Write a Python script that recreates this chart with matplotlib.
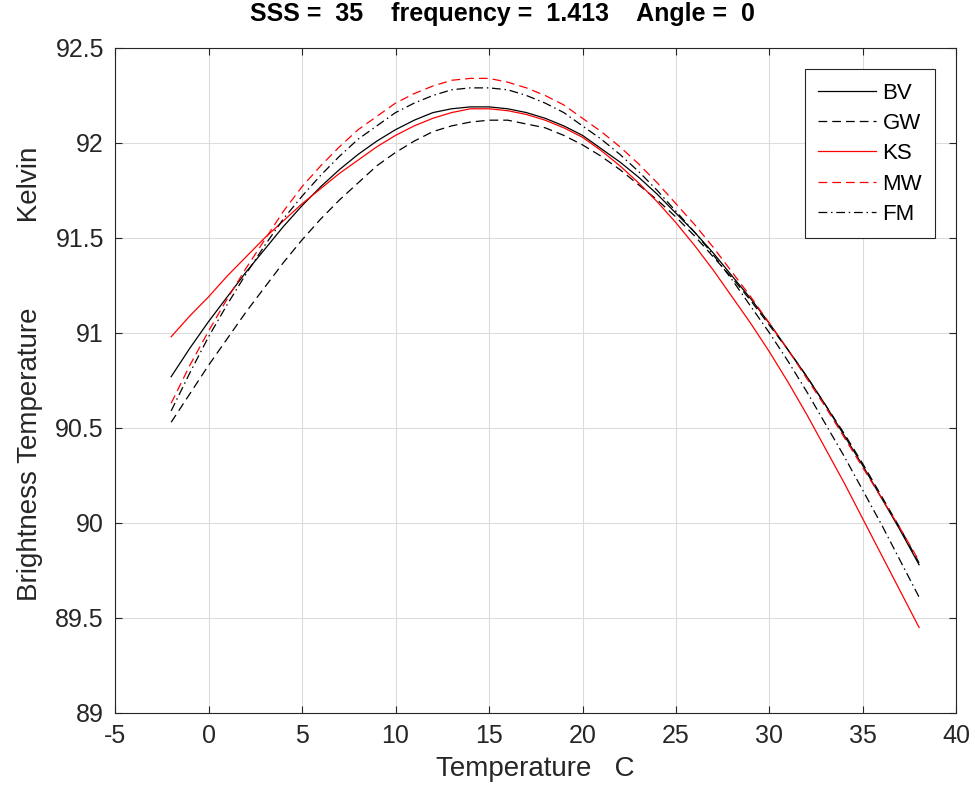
#!/usr/bin/env python3
"""Brightness temperature vs SST for five dielectric models (L-band, nadir)."""

import matplotlib
matplotlib.use("Agg")
import matplotlib.pyplot as plt

plt.rcParams["font.family"] = ["Liberation Sans", "DejaVu Sans"]
plt.rcParams["axes.unicode_minus"] = False

# sea surface temperature, deg C
temp = list(range(-2, 39))

# brightness temperature (K) per model
tb_bv = [90.77, 90.92, 91.06, 91.19, 91.32, 91.44, 91.56, 91.67, 91.77, 91.86,
         91.94, 92.01, 92.07, 92.12, 92.16, 92.18, 92.19, 92.19, 92.18, 92.16,
         92.13, 92.09, 92.04, 91.97, 91.90, 91.82, 91.73, 91.63, 91.53, 91.42,
         91.30, 91.18, 91.05, 90.91, 90.77, 90.62, 90.46, 90.30, 90.13, 89.96,
         89.78]
tb_gw = [90.53, 90.68, 90.83, 90.97, 91.11, 91.24, 91.37, 91.49, 91.60, 91.70,
         91.79, 91.88, 91.95, 92.01, 92.06, 92.09, 92.11, 92.12, 92.12, 92.10,
         92.08, 92.04, 91.99, 91.93, 91.86, 91.78, 91.70, 91.61, 91.51, 91.40,
         91.29, 91.17, 91.04, 90.91, 90.77, 90.62, 90.47, 90.31, 90.14, 89.97,
         89.79]
tb_ks = [90.98, 91.09, 91.19, 91.30, 91.40, 91.50, 91.59, 91.68, 91.76, 91.84,
         91.91, 91.98, 92.04, 92.09, 92.13, 92.16, 92.18, 92.18, 92.17, 92.15,
         92.12, 92.08, 92.03, 91.96, 91.88, 91.79, 91.69, 91.58, 91.46, 91.33,
         91.19, 91.05, 90.90, 90.74, 90.57, 90.39, 90.21, 90.02, 89.83, 89.64,
         89.45]
tb_mw = [90.63, 90.83, 91.01, 91.18, 91.34, 91.49, 91.64, 91.77, 91.88, 91.98,
         92.07, 92.14, 92.21, 92.26, 92.30, 92.33, 92.34, 92.34, 92.32, 92.29,
         92.25, 92.20, 92.13, 92.06, 91.98, 91.89, 91.79, 91.68, 91.57, 91.45,
         91.32, 91.19, 91.05, 90.91, 90.76, 90.61, 90.45, 90.29, 90.13, 89.97,
         89.80]
tb_fm = [90.59, 90.79, 90.98, 91.15, 91.31, 91.46, 91.60, 91.72, 91.83, 91.93,
         92.02, 92.09, 92.16, 92.21, 92.25, 92.28, 92.29, 92.29, 92.28, 92.25,
         92.21, 92.16, 92.09, 92.02, 91.94, 91.85, 91.75, 91.64, 91.53, 91.41,
         91.28, 91.14, 91.00, 90.85, 90.69, 90.52, 90.35, 90.17, 89.99, 89.80,
         89.61]

series = [
    ("BV", tb_bv, "k", "-"),
    ("GW", tb_gw, "k", (0, (7, 4))),
    ("KS", tb_ks, "r", "-"),
    ("MW", tb_mw, "r", (0, (7, 4))),
    ("FM", tb_fm, "k", (0, (7, 3, 1.2, 3))),
]

AX_COL = "#262626"

fig = plt.figure(figsize=(9.75, 7.97), dpi=100)
ax = fig.add_axes([0.118, 0.1054, 0.863, 0.8344])

for name, vals, col, ls in series:
    ax.plot(temp, vals, color=col, linestyle=ls, linewidth=0.9, label=name)

ax.set_xlim(-5, 40)
ax.set_ylim(89, 92.5)
ax.set_xticks(range(-5, 41, 5))
ax.set_yticks([89, 89.5, 90, 90.5, 91, 91.5, 92, 92.5])
ax.set_yticklabels(["89", "89.5", "90", "90.5", "91", "91.5", "92", "92.5"])
ax.grid(True, color="#dcdcdc", linewidth=0.8)
ax.set_axisbelow(True)
ax.tick_params(direction="in", length=5, width=0.8, top=True, right=True,
               labelsize=18, colors=AX_COL, pad=8)
for sp in ax.spines.values():
    sp.set_color(AX_COL)
    sp.set_linewidth(0.8)

ax.set_xlabel("Temperature   C", fontsize=20, color=AX_COL, labelpad=6)
ax.set_ylabel("Brightness Temperature           Kelvin", fontsize=20, color=AX_COL)
ax.yaxis.set_label_coords(-0.086, 0.51)

fig.text(0.515, 0.997, "SSS =  35    frequency =  1.413    Angle =  0",
         ha="center", va="top", fontsize=18, fontweight="bold", color="black")

leg = ax.legend(loc="upper right", bbox_to_anchor=(0.975, 0.968), borderaxespad=0,
                fontsize=16, handlelength=2.6, handletextpad=0.3, labelspacing=0.42,
                borderpad=0.6, fancybox=False, framealpha=1, edgecolor=AX_COL)
leg.get_frame().set_linewidth(0.8)

fig.savefig("out.png", dpi=100)
